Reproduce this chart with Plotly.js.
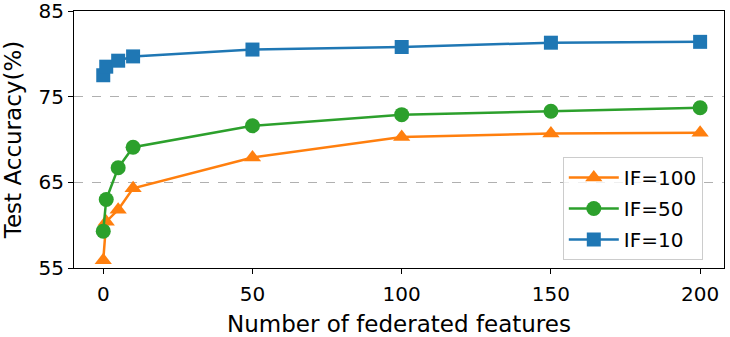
<!DOCTYPE html>
<html>
<head>
<meta charset="utf-8">
<script src="https://cdn.plot.ly/plotly-3.0.1.min.js"></script>
<style>
  html, body { margin: 0; padding: 0; background: #fff; }
  #chart { width: 730px; height: 337px; }
</style>
</head>
<body>
<div id="chart"></div>
<script>
// Test accuracy vs number of federated features
const features = [0, 1, 5, 10, 50, 100, 150, 200];
const accIF100 = [55.9, 60.4, 61.8, 64.3, 67.9, 70.3, 70.7, 70.8];
const accIF50 = [59.3, 63.0, 66.7, 69.1, 71.6, 72.9, 73.3, 73.7];
const accIF10 = [77.5, 78.5, 79.2, 79.7, 80.5, 80.8, 81.3, 81.4];
const yTicks = [55, 65, 75, 85];
const xTicks = [0, 50, 100, 150, 200];

function series(name, y, color, symbol, size) {
  return {
    x: features, y: y,
    type: "scatter",
    mode: "lines+markers",
    name: name,
    legendgroup: name,
    line: { color: color, width: 2.5 },
    marker: { symbol: symbol, size: size, color: color }
  };
}

const traces = [
  series("IF=100", accIF100, "#ff7f0e", "triangle-up", 15),
  series("IF=50", accIF50, "#2ca02c", "circle", 15),
  series("IF=10", accIF10, "#1f77b4", "square", 14)
];

const layout = {
  width: 730, height: 337,
  paper_bgcolor: "#fff",
  plot_bgcolor: "#fff",
  font: { family: "DejaVu Sans", color: "#000", size: 19 },
  margin: { t: 11, b: 69, l: 74, r: 6 },
  xaxis: {
    range: [-9.8, 208],
    tickvals: xTicks,
    ticks: "outside", ticklen: 5, tickwidth: 1, tickcolor: "#000",
    ticklabelstandoff: 3,
    tickfont: { size: 20 },
    showline: true, mirror: true, linecolor: "#000", linewidth: 1,
    showgrid: false, zeroline: false,
    title: { text: "Number of federated features", standoff: 12 }
  },
  yaxis: {
    range: [55, 85],
    tickvals: yTicks,
    ticks: "outside", ticklen: 5, tickwidth: 1, tickcolor: "#000",
    ticklabeloverflow: "allow",
    tickfont: { size: 20 },
    showline: true, mirror: true, linecolor: "#000", linewidth: 1,
    showgrid: true, gridcolor: "#b0b0b0", gridwidth: 1.3, griddash: "dash",
    zeroline: false,
    title: { text: "Test Accuracy(%)", standoff: 10 }
  },
  showlegend: true,
  legend: {
    x: 0.752, y: 0.432, xanchor: "left", yanchor: "top",
    bgcolor: "rgba(255,255,255,0.8)",
    bordercolor: "#cccccc", borderwidth: 1,
    itemwidth: 50,
    tracegroupgap: 2,
    font: { size: 20 }
  }
};

Plotly.newPlot("chart", traces, layout, { displayModeBar: false, staticPlot: true });
</script>
</body>
</html>
